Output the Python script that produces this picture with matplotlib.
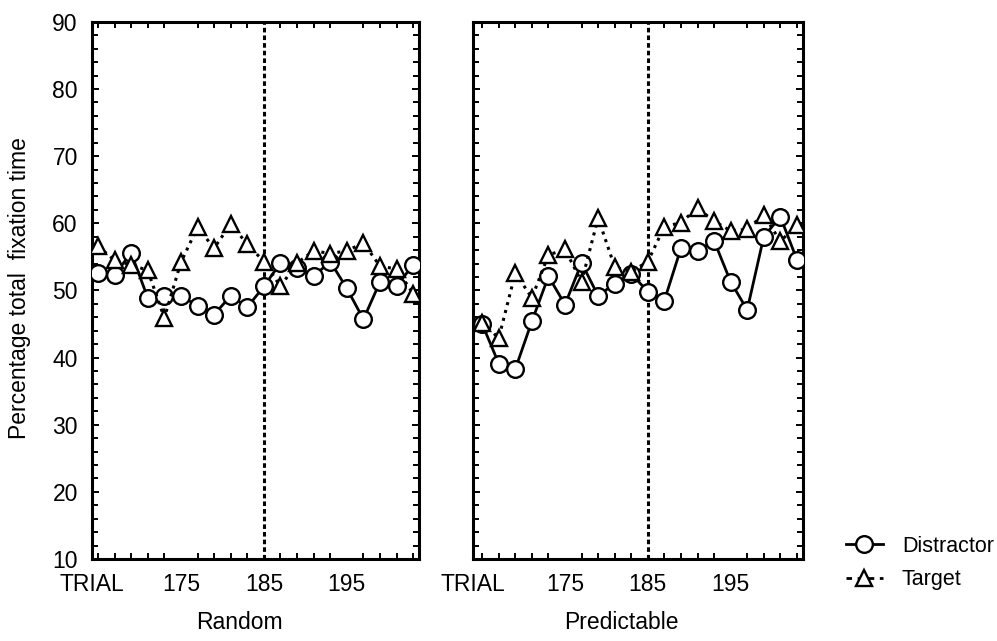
import matplotlib.pyplot as plt
from matplotlib.ticker import MultipleLocator, FixedLocator
from matplotlib.lines import Line2D

plt.rcParams["font.family"] = ["Liberation Sans", "DejaVu Sans"]

TRIALS = [165, 167, 169, 171, 173, 175, 177, 179, 181, 183,
          185, 187, 189, 191, 193, 195, 197, 199, 201, 203]

RANDOM_DISTRACTOR = [52.6, 52.3, 55.6, 48.9, 49.2, 49.2, 47.7, 46.4, 49.2, 47.5,
                     50.6, 54.1, 53.3, 52.1, 54.3, 50.3, 45.7, 51.3, 50.7, 53.8]
RANDOM_TARGET = [56.6, 54.5, 53.8, 53.0, 45.9, 54.2, 59.4, 56.3, 59.9, 56.9,
                 54.3, 50.6, 54.1, 55.9, 55.5, 55.9, 57.1, 53.6, 53.2, 49.5]

PRED_DISTRACTOR = [45.0, 39.1, 38.3, 45.4, 52.1, 47.9, 54.1, 49.2, 51.0, 52.5,
                   49.8, 48.5, 56.3, 55.9, 57.4, 51.3, 47.1, 58.0, 61.0, 54.6]
PRED_TARGET = [45.2, 42.9, 52.6, 48.9, 55.3, 56.1, 51.3, 60.8, 53.5, 52.8,
               54.3, 59.5, 60.1, 62.3, 60.3, 58.9, 59.1, 61.3, 57.3, 59.8]

Y_TICKS = [10, 20, 30, 40, 50, 60, 70, 80, 90]
X_TICKS = [175, 185, 195]
SPLIT_TRIAL = 185

FS = 16.5


def dibujar_panel(ax, distractor, target, xlim, titulo, mostrar_y):
    ax.plot(TRIALS, distractor, color="black", linestyle="-", linewidth=2,
            marker="o", markersize=12, markerfacecolor="white",
            markeredgecolor="black", markeredgewidth=1.7, zorder=3)
    ax.plot(TRIALS, target, color="black", linestyle=":", linewidth=2.2,
            marker="^", markersize=11.5, markerfacecolor="white",
            markeredgecolor="black", markeredgewidth=1.7, zorder=4)
    ax.axvline(SPLIT_TRIAL, color="black", linestyle=(0, (1.5, 1)), linewidth=2.2, zorder=2)

    ax.set_xlim(*xlim)
    ax.set_ylim(10, 90)

    ax.xaxis.set_major_locator(FixedLocator([xlim[0]] + X_TICKS))
    ax.set_xticklabels(["TRIAL"] + [str(t) for t in X_TICKS])
    ax.xaxis.set_minor_locator(FixedLocator(TRIALS))
    ax.set_yticks(Y_TICKS)
    ax.yaxis.set_minor_locator(MultipleLocator(2))
    if not mostrar_y:
        ax.set_yticklabels([])

    ax.tick_params(which="both", direction="in", top=True, right=True,
                   width=1.4, labelsize=FS, pad=10)
    ax.tick_params(which="major", length=5)
    ax.tick_params(which="minor", length=4)
    ax.tick_params(axis="x", which="major", length=0)
    for lado in ax.spines.values():
        lado.set_linewidth(2.2)

    ax.set_xlabel(titulo, fontsize=FS)
    ax.xaxis.set_label_coords(0.45, -0.097)
    ax.xaxis.label.set_va("top")


def main():
    fig = plt.figure(figsize=(9.97, 6.41), dpi=100)
    ax1 = fig.add_axes([0.092, 0.128, 0.3283, 0.8378])
    ax2 = fig.add_axes([0.4741, 0.128, 0.331, 0.8378])

    dibujar_panel(ax1, RANDOM_DISTRACTOR, RANDOM_TARGET, (164.25, 203.7), "Random", True)
    dibujar_panel(ax2, PRED_DISTRACTOR, PRED_TARGET, (163.85, 203.7), "Predictable", False)

    fig.text(20 / 997, 1 - 288 / 641, "Percentage total  fixation time",
             rotation=90, ha="center", va="center", fontsize=FS)

    handles = [
        Line2D([], [], color="black", linestyle="-", linewidth=2, marker="o",
               markersize=12, markerfacecolor="white", markeredgewidth=1.7),
        Line2D([], [], color="black", linestyle=(0, (2, 2)), linewidth=2, marker="^",
               markersize=11.5, markerfacecolor="white", markeredgewidth=1.7),
    ]
    fig.legend(handles, ["Distractor", "Target"], loc="center left",
               bbox_to_anchor=(846 / 997, 1 - 563 / 641), frameon=False,
               fontsize=15.5, handlelength=1.7, handletextpad=0.9,
               labelspacing=0.6, borderpad=0, borderaxespad=0)

    fig.savefig("out.png", dpi=100, facecolor="white")
    plt.close(fig)


if __name__ == "__main__":
    main()
